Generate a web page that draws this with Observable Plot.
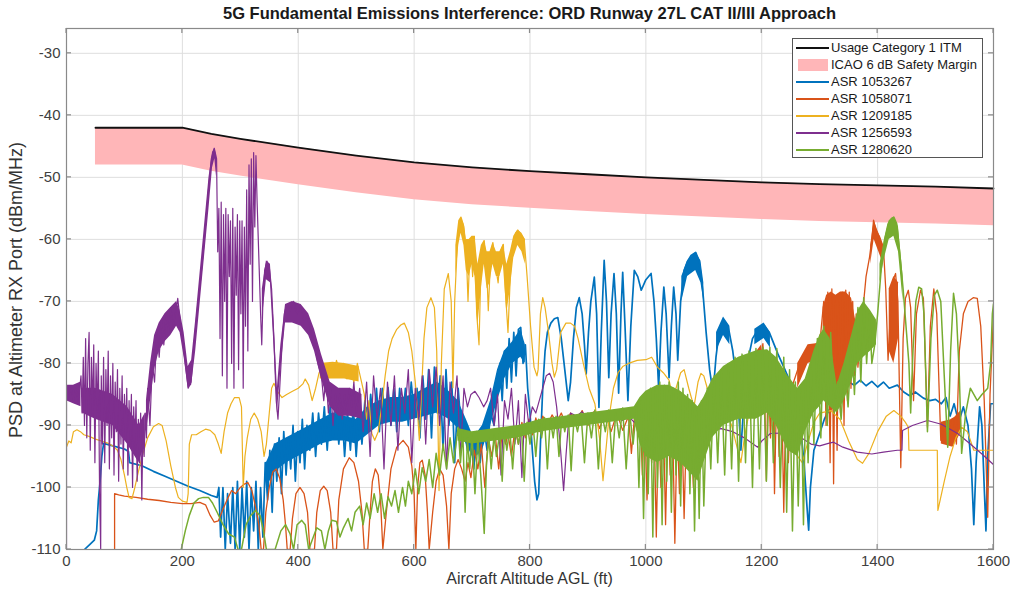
<!DOCTYPE html>
<html><head><meta charset="utf-8">
<script src="https://cdn.jsdelivr.net/npm/d3@7"></script>
<script src="https://cdn.jsdelivr.net/npm/@observablehq/plot@0.6"></script>
<style>
body{margin:0;background:#fff;font-family:"Liberation Sans",Arial,sans-serif;}
#wrap{position:relative;width:1010px;height:595px;overflow:hidden;}
#title{position:absolute;left:66px;width:927px;top:4px;text-align:center;font-weight:bold;font-size:16.5px;color:#1a1a1a;}
#xlab{position:absolute;left:66px;width:927px;top:570px;text-align:center;font-size:16px;color:#333;}
#ylab{position:absolute;left:16px;top:290px;transform:translate(-50%,-50%) rotate(-90deg);white-space:nowrap;font-size:18px;color:#333;}
#legend{position:absolute;left:792px;top:38px;width:189px;height:118px;border:1px solid #555;background:#fff;font-size:13px;color:#1a1a1a;}
.row{position:absolute;left:3px;height:17px;display:flex;align-items:center;}
.sw{width:33px;height:2px;margin-right:2px;}
.patch{width:30px;height:12px;margin:0 3px 0 2px;}
</style></head>
<body><div id="wrap"><div id="title">5G Fundamental Emissions Interference: ORD Runway 27L CAT II/III Approach</div>
<div id="plot"></div><div id="xlab">Aircraft Altitude AGL (ft)</div><div id="ylab">PSD at Altimeter RX Port (dBm/MHz)</div><div id="legend"></div></div>
<script>
const xTicks=[0,200,400,600,800,1000,1200,1400,1600];
const yTicks=[-110,-100,-90,-80,-70,-60,-50,-40,-30];
const itmX=[50,200,250,300,400,500,600,700,800,900,1000,1100,1200,1300,1400,1500,1600];
const itmY=[-42,-42,-43,-43.8,-45.2,-46.5,-47.6,-48.4,-49,-49.5,-50,-50.4,-50.8,-51.1,-51.3,-51.5,-51.8];
const icaoLow=[-48,-48,-49,-49.8,-51.2,-52.5,-53.6,-54.4,-55,-55.5,-56,-56.4,-56.8,-57.1,-57.3,-57.5,-57.8];
const seriesNames=["ASR 1053267","ASR 1058071","ASR 1209185","ASR 1256593","ASR 1280620"];
const seriesColors=["#0072BD","#D95319","#EDB120","#7E2F8E","#77AC30"];
const seriesWidths=[1.7,1.3,1.2,1.2,1.5];

const blueLine=[[31,-110],[40,-109.2],[48,-108.5],[52,-107],[55,-102],[58,-99],[61,-95],[64,-92.9],[80,-93.3],[100,-93.8],[107,-94.2],[109,-96],[130,-96.5],[150,-97.4],[170,-98.2],[190,-99],[210,-99.8],[230,-100.5],[250,-101.3],[260,-101.6],[263,-100],[266,-108],[270,-100],[274,-110],[278,-101],[283,-109],[287,-100],[291,-110],[295,-99],[299,-110],[303,-100],[307,-108],[311,-99],[315,-110],[319,-100],[323,-107],[327,-99],[331,-110],[335,-100],[339,-108],[343,-96],[347,-102],[351,-94],[355,-104],[359,-93],[363,-99],[367,-92],[371,-101],[375,-91],[379,-98],[383,-92],[387,-97],[391,-90],[395,-99],[399,-91],[403,-96],[407,-89],[411,-97],[415,-90],[420,-94],[425,-88],[430,-95],[435,-88],[440,-93],[445,-87],[450,-94],[455,-87],[460,-92],[465,-86],[470,-93],[475,-87],[480,-95],[485,-88],[490,-94],[495,-87],[500,-95],[505,-88],[510,-93],[515,-86],[520,-91],[525,-85],[530,-90],[535,-84],[540,-91],[545,-84],[550,-89],[555,-83.9],[560,-90],[565,-84],[570,-91],[575,-84],[580,-89],[585,-84],[590,-90],[595,-83],[600,-88],[605,-84],[610,-92],[615,-82],[620,-89],[625,-81],[630,-92],[635,-80.6],[640,-88],[645,-82],[650,-94],[655,-81],[660,-90],[665,-83],[670,-96],[676,-84],[680,-89],[686,-90],[692,-94],[698,-92],[703,-97],[708,-91],[714,-96],[720,-90],[726,-94],[732,-88],[738,-90],[744,-84],[748,-80],[752,-86],[756,-78],[760,-84],[764,-76],[768,-83],[772,-75],[776,-82],[780,-74.5],[784,-74.2],[788,-80],[792,-77],[796,-84],[800,-88],[804,-94],[808,-99],[812,-102],[815,-101],[818,-93],[822,-84],[826,-78],[830,-75],[836,-73.5],[842,-72.8],[848,-72.6],[854,-76],[860,-81],[866,-86],[870,-83],[875,-76],[880,-71],[885,-69.4],[890,-72],[894,-77],[897,-81.7],[901,-75],[905,-70],[911,-66.1],[915,-72],[919,-87.1],[923,-75],[928,-63.4],[932,-70],[936,-82.3],[940,-72],[945,-65.5],[949,-72],[953,-84.8],[957,-72],[960,-65.3],[964,-74],[969,-86],[974,-74],[980,-65],[986,-66],[992,-68.2],[1000,-66.5],[1009,-65.5],[1014,-70],[1018,-76],[1022,-83.9],[1026,-75],[1031,-67.7],[1035,-72],[1040,-82.3],[1044,-74],[1048,-67.7],[1052,-72],[1055,-79.5],[1060,-70],[1066,-65],[1072,-63.5],[1078,-62.6],[1086,-62.1],[1092,-63.5],[1098,-68],[1104,-75],[1110,-81],[1116,-84.8],[1121,-79],[1127,-74.5],[1134,-73],[1142,-74],[1150,-78],[1158,-84],[1164,-94],[1168,-88],[1175,-80],[1184,-76],[1195,-74.3],[1204,-73.9],[1213,-75],[1228,-78.5],[1240,-81],[1250,-83.2],[1260,-87],[1267,-90.3],[1273,-96],[1278,-103],[1281,-106.9],[1284,-100],[1290,-94],[1296,-92.4],[1308,-89],[1319,-87],[1330,-84.5],[1340,-83.9],[1350,-83],[1360,-83.5],[1370,-82.7],[1380,-83.6],[1390,-82.9],[1400,-83.8],[1410,-83],[1420,-84],[1434,-83.5],[1445,-84.6],[1455,-85.2],[1465,-84.6],[1479,-85.6],[1490,-86],[1500,-85.8],[1510,-86.5],[1518,-85.5],[1525,-88.5],[1532,-86.5],[1540,-89.5],[1548,-87],[1556,-90],[1562,-97],[1566,-106],[1570,-96],[1576,-87],[1580,-90],[1584,-100],[1587,-107],[1590,-95],[1595,-86.5],[1600,-86.5]];
const blueBandA=[[345,-100,-96],[360,-97.5,-93],[380,-96,-92],[400,-95,-91],[420,-94,-90],[440,-93,-89],[460,-92.5,-88],[480,-92.5,-88.5],[500,-93,-89],[520,-91.5,-87],[540,-90,-86],[560,-89.5,-85.5],[580,-89.5,-85.5],[600,-89,-85],[620,-88.5,-84],[640,-88,-83],[660,-89,-84.5],[676,-90.5,-86],[690,-93,-89],[703,-95.5,-92],[718,-94,-90],[732,-90,-86],[744,-86,-81],[756,-82.5,-78],[770,-80,-76.5],[784,-79,-74.5],[792,-80,-77]];
const blueBandB=[[1062,-70,-66],[1072,-66,-63.5],[1086,-65,-62.1],[1095,-67,-63.5],[1100,-70,-67]];
const blueBandC=[[1122,-78,-75],[1134,-75.5,-72.5],[1145,-77,-74]];
const blueBandD=[[1188,-77,-74.5],[1204,-76,-73.5],[1215,-77.5,-75]];

const orangeLine=[[83,-110],[83,-101],[90,-101.2],[100,-101.4],[120,-101.6],[140,-101.9],[160,-102.1],[180,-102.4],[200,-102.6],[215,-102.6],[230,-102.4],[240,-102.8],[248,-104.5],[255,-105.6],[262,-105.4],[270,-103.5],[278,-101.8],[285,-100.5],[292,-101],[300,-100],[306,-99.5],[313,-99.2],[320,-100.5],[326,-103],[332,-106],[336,-110],[340,-110],[344,-104],[350,-100],[356,-97.5],[362,-97],[368,-98.5],[374,-102],[378,-106],[381,-110],[386,-110],[390,-105],[396,-101],[403,-100],[410,-101],[416,-104],[420,-110],[428,-110],[432,-104],[438,-100.5],[444,-99.8],[450,-100.5],[456,-104],[460,-110],[466,-110],[470,-102],[478,-97],[488,-95.2],[496,-96],[504,-99],[510,-104],[514,-110],[520,-110],[524,-104],[528,-99],[533,-97],[538,-98],[542,-102],[546,-110],[552,-104],[560,-97],[570,-93.5],[581,-92.4],[590,-93.5],[596,-96.5],[600,-101],[603,-110],[606,-100],[610,-96],[614,-95.6],[619,-98],[623,-104],[626,-110],[632,-104],[638,-99],[644,-97],[650,-98],[656,-103],[660,-110],[664,-101],[670,-97],[676,-95.5],[682,-97],[688,-99],[693,-96],[698,-98.4],[704,-94],[710,-97],[716,-93],[722,-100],[728,-92],[734,-95],[740,-91.5],[746,-97],[752,-91],[758,-93],[762,-91.3],[768,-95],[774,-90.5],[780,-93],[786,-89.5],[792,-92],[798,-89],[804,-91.5],[810,-88.8],[816,-91],[822,-88.5],[830,-90],[838,-88.3],[846,-89.5],[854,-88],[862,-89.8],[870,-88],[880,-89.5],[890,-87.6],[900,-90],[910,-87.8],[920,-90.5],[930,-88],[940,-91],[950,-88],[960,-90.8],[970,-88.5],[975,-94.5],[980,-89],[986,-91],[990,-87.5],[994,-98],[998,-88],[1002,-102],[1006,-89],[1010,-96],[1014,-88],[1018,-108],[1022,-89],[1026,-100],[1030,-87.5],[1034,-106],[1038,-88],[1042,-98],[1046,-89],[1050,-109],[1054,-90],[1058,-101],[1062,-89],[1066,-105],[1070,-90],[1074,-97],[1078,-91],[1082,-100],[1086,-92],[1090,-94],[1094,-90],[1100,-89],[1110,-87],[1120,-86],[1130,-85],[1140,-84],[1150,-83],[1159,-82.3],[1165,-84],[1170,-81],[1176,-83],[1182,-80],[1188,-82],[1194,-78.5],[1198,-79],[1202,-76.8],[1205,-85],[1208,-98.9],[1211,-80],[1215,-92],[1219,-82],[1222,-101],[1226,-83],[1230,-95],[1234,-82],[1238,-104],[1242,-84],[1246,-96],[1250,-86],[1255,-83],[1262,-81],[1270,-79],[1280,-77.6],[1290,-77],[1297,-76.8],[1302,-75],[1307,-70],[1311,-90],[1314,-68.5],[1318,-96],[1321,-68],[1324,-99.4],[1327,-70],[1330,-94],[1333,-70],[1336,-88],[1339,-68.5],[1342,-90],[1345,-68.2],[1348,-86],[1351,-68.5],[1354,-84],[1357,-70],[1360,-82],[1363,-72],[1366,-80.6],[1370,-76],[1374,-72],[1380,-66],[1386,-62.9],[1390,-60],[1393,-56.9],[1397,-58.5],[1403,-59.5],[1410,-61.3],[1414,-68],[1418,-79.5],[1422,-72],[1427,-66.5],[1431,-65.5],[1435,-70],[1440,-96.8],[1444,-76],[1448,-69.5],[1453,-68.2],[1457,-71],[1462,-86],[1467,-72],[1474,-68.2],[1479,-69.5],[1486,-90.3],[1491,-74],[1497,-68],[1502,-72],[1509,-92.4],[1515,-90],[1521,-92.5],[1527,-89],[1531,-88.8],[1536,-93],[1541,-78],[1548,-72],[1556,-70],[1565,-69.4],[1572,-69.5],[1578,-74],[1584,-86],[1590,-104.8],[1594,-85],[1600,-72]];
const orangeBandA=[[1100,-90,-87.5],[1130,-87,-84],[1160,-84.5,-81.5],[1180,-82.5,-79.5],[1200,-80,-77]];
const orangeBandB=[[1262,-84,-80],[1280,-80,-77],[1297,-79.5,-76.8]];
const orangeBandC=[[1306,-78,-71],[1312,-84,-69],[1320,-88,-68.5],[1328,-86,-69],[1336,-83,-68.5],[1345,-82,-68.5],[1355,-80,-69.5],[1362,-78,-73]];
const orangeBandD=[[1388,-64,-61],[1394,-60,-57],[1402,-62,-59],[1410,-64,-61]];
const orangeBandE=[[1420,-78,-68],[1428,-80,-66],[1436,-76,-67]];
const orangeBandF=[[1510,-93,-89.5],[1530,-93.5,-89],[1545,-91,-87.5]];

const yellowLine=[[0,-93.5],[4,-92.5],[8,-92.8],[12,-91],[18,-90.7],[24,-91],[30,-91.5],[40,-91.8],[50,-92.2],[60,-92.5],[70,-92.8],[80,-93.3],[88,-94],[94,-95.5],[100,-98],[104,-100],[108,-101.6],[113,-101.8],[118,-100],[124,-97.5],[132,-94.5],[140,-92],[150,-90.2],[159,-89.7],[165,-90],[172,-92.5],[180,-96.5],[188,-100],[193,-101.6],[200,-102.2],[208,-102.4],[210,-101],[212,-93],[216,-91.5],[224,-91.5],[232,-91],[240,-90.6],[248,-90.8],[256,-91.5],[262,-93],[267,-94.5],[272,-91],[278,-88],[284,-86.5],[290,-85.5],[298,-85.5],[302,-87],[305,-100],[308,-95],[312,-92],[318,-89],[324,-88],[330,-89],[336,-91],[341,-95],[345,-93],[350,-88],[354,-84],[358,-83.2],[364,-84.5],[372,-85.5],[380,-85],[390,-84.5],[400,-84],[408,-83.3],[412,-82.5],[418,-83.5],[424,-86],[430,-84],[436,-81.5],[442,-80.6],[448,-81.8],[454,-80],[460,-82],[466,-79.5],[472,-81.5],[478,-80],[484,-82.5],[490,-80.5],[496,-83],[502,-80],[508,-82.5],[514,-85],[518,-89],[522,-86],[527,-91.3],[532,-92.4],[538,-91],[544,-87],[550,-82],[556,-78],[562,-76],[570,-74.5],[577,-73.8],[583,-73.5],[590,-75],[596,-78],[602,-83],[606,-88],[609,-92.4],[613,-84],[617,-76],[622,-71],[629,-69.4],[635,-71],[639,-78],[643,-100.5],[647,-80],[652,-68],[659,-65.5],[664,-70],[667,-83.9],[670,-70],[675,-60],[681,-56.4],[686,-58],[690,-62],[693,-70],[697,-60],[701,-66],[704,-59.5],[708,-72],[712,-77],[716,-62],[721,-60.2],[725,-64],[728,-71.5],[732,-63],[736,-60.5],[740,-64],[745,-67],[749,-62],[754,-60.8],[758,-69],[762,-75],[766,-66],[770,-61],[775,-59],[779,-58.5],[784,-59.2],[790,-60],[795,-66],[801,-74],[807,-80.6],[812,-82],[814,-81],[818,-72],[822,-69.4],[826,-71],[832,-75],[838,-80],[842,-82.2],[846,-81],[853,-75],[862,-73.5],[870,-73.5],[877,-74],[883,-76],[892,-80],[902,-84],[912,-86.5],[920,-92],[926,-98.9],[930,-95],[936,-89],[944,-84],[952,-81.5],[960,-80.5],[970,-80],[985,-79.5],[1000,-79.4],[1010,-79],[1020,-80.6],[1030,-81.5],[1040,-82.7],[1046,-85.3],[1052,-84],[1060,-81.5],[1066,-81],[1074,-84],[1083,-87],[1090,-83],[1095,-81.6],[1100,-82],[1106,-84],[1112,-86],[1120,-87],[1130,-87.5],[1140,-88],[1148,-90],[1156,-93],[1164,-96],[1170,-92],[1178,-88],[1190,-86.5],[1205,-85.8],[1220,-85.5],[1235,-87],[1250,-91],[1262,-95],[1270,-96],[1279,-92.9],[1290,-89.5],[1300,-88],[1319,-87.6],[1335,-89],[1350,-92.5],[1365,-95.5],[1374,-96.1],[1385,-94.5],[1400,-91],[1415,-88.5],[1428,-87.6],[1440,-88.5],[1448,-89.5],[1453,-90.3],[1454,-94],[1470,-94],[1490,-94],[1503,-94],[1504,-103.7],[1515,-99],[1525,-95],[1535,-92],[1545,-90.3],[1555,-91],[1566,-94],[1580,-94],[1600,-94]];
const yellowBandA=[[672,-66,-61],[677,-61,-57],[681,-59,-56.4],[686,-61,-57.5],[690,-65,-60],[695,-66,-60],[700,-64,-59.5],[705,-66,-59.5],[710,-74,-64],[716,-68,-61],[721,-64,-60.2],[726,-68,-62],[731,-67,-62],[736,-64,-60.5],[742,-66,-62],[748,-66,-62],[754,-64,-60.8],[760,-72,-64],[766,-68,-62],[772,-63,-59.5],[779,-61,-58.5],[786,-62,-59],[792,-64,-60]];
const yellowBandB=[[438,-82.5,-80],[460,-82.5,-79.8],[480,-82.5,-80],[505,-83,-80.5]];

const purpleLine=[[0,-110],[0,-84],[4,-85],[8,-84],[12,-86],[16,-84],[20,-86],[24,-83],[25,-82],[27,-88],[29,-79],[31,-90],[33,-76],[35,-92],[37,-80],[39,-75],[41,-94],[43,-79],[45,-88],[47,-77],[49,-96],[51,-80],[53,-88],[55,-78],[57,-100],[59,-110],[60,-82],[62,-93],[64,-79],[66,-96],[68,-81],[70,-90],[72,-78],[74,-97],[76,-82],[78,-92],[80,-80],[82,-98],[84,-83],[86,-91],[88,-81],[90,-99],[92,-84],[94,-93],[96,-82],[98,-97],[100,-85],[102,-92],[104,-84],[106,-98],[108,-86],[110,-93],[112,-85],[114,-100],[116,-87],[118,-94],[120,-86],[122,-99],[124,-89],[126,-96],[128,-88],[130,-102],[132,-90],[134,-95],[136,-88],[138,-92],[140,-84],[144,-90],[148,-80],[152,-83],[156,-75],[160,-79],[164,-73],[168,-77],[172,-72],[176,-75],[180,-71],[184,-74],[188,-72],[192,-69.5],[196,-73],[200,-76],[205,-80],[210,-84],[215,-83],[220,-77],[226,-71],[232,-66],[238,-60],[244,-53],[250,-47],[255,-45.3],[259,-47],[261,-62],[263,-55],[265,-76],[267,-54],[269,-82],[271,-56],[273,-70],[275,-55],[277,-84],[279,-56],[281,-66],[283,-57],[285,-80],[287,-55],[289,-84],[291,-58],[293,-69],[295,-56],[297,-81],[299,-57],[301,-72],[303,-57],[305,-84],[307,-58],[309,-74],[311,-52],[313,-78],[315,-48],[317,-64],[319,-47],[321,-70],[323,-46],[325,-58],[327,-46.5],[329,-54],[331,-60],[333,-66],[335,-72],[337,-77],[339,-70],[342,-65],[346,-63.5],[350,-64.5],[354,-68],[358,-76],[362,-86],[365,-89],[368,-84],[372,-77],[376,-72],[380,-70.5],[386,-71.5],[392,-70],[398,-72],[404,-71],[410,-73],[416,-72.5],[422,-75],[428,-77],[434,-80],[440,-82],[444,-86],[448,-82],[452,-88],[456,-84],[460,-90],[464,-85],[468,-88],[472,-85],[476,-89],[480,-85],[484,-88],[488,-84],[492,-87],[496,-83],[500,-88],[506,-84],[512,-91],[518,-83],[524,-95],[530,-82],[536,-89],[542,-84],[548,-97],[554,-83],[560,-90],[566,-82],[572,-94],[578,-84],[584,-88],[590,-81],[596,-96],[602,-84],[608,-89],[614,-82],[620,-93],[626,-81],[632,-87],[638,-80.6],[644,-90],[650,-82],[656,-97],[662,-83],[668,-88],[674,-82],[680,-95],[686,-84],[692,-87],[698,-85],[705,-84.5],[712,-85.5],[720,-87],[726,-86],[732,-84],[738,-90],[744,-85],[750,-98],[756,-86],[762,-89],[768,-84],[774,-93],[780,-86],[786,-98.4],[792,-85],[798,-90],[804,-87],[810,-88],[816,-86],[822,-84],[828,-82],[834,-81.6],[840,-83],[846,-87],[852,-93],[858,-100.5],[862,-95],[866,-90],[870,-88],[880,-88.5],[890,-87.8],[900,-89],[910,-88],[920,-89.5],[930,-88.3],[940,-89],[950,-88],[960,-89.2],[970,-88.5],[980,-89.5],[990,-88.8],[1000,-89.5],[1010,-89],[1020,-89.8],[1030,-90.3],[1050,-90.5],[1070,-90.2],[1090,-90.4],[1110,-90.8],[1130,-90.5],[1150,-91],[1170,-92],[1185,-93],[1193,-93.5],[1200,-92.5],[1215,-91.3],[1240,-91.2],[1260,-91.5],[1285,-93],[1300,-93.3],[1315,-92.9],[1324,-92.7],[1340,-93.5],[1365,-94.3],[1390,-94.6],[1410,-94.3],[1434,-94],[1442,-94],[1443,-90.8],[1460,-90],[1486,-89.2],[1510,-89.8],[1538,-91.3],[1560,-93],[1580,-94.6],[1600,-96.3]];
const purpleBandA=[[0,-86,-83.5],[12,-86.5,-83.5],[25,-87,-83]];
const purpleBandB=[[27,-88,-84],[50,-89,-84],[80,-90,-85],[105,-93,-87],[125,-96,-90],[136,-93,-88]];
const purpleBandC=[[138,-91,-86],[145,-86,-80],[152,-81,-75.5],[160,-78,-73.5],[170,-76.5,-72],[180,-75.5,-71],[190,-74,-70],[196,-75,-71.5],[203,-79,-75],[210,-84,-80.5],[216,-83.5,-79.5],[223,-78,-73],[230,-71,-66],[238,-63,-58],[246,-55,-50],[252,-48.5,-46],[256,-47,-45.3],[259,-50,-46.5]];
const purpleBandD=[[338,-73,-68],[345,-66.5,-63.5],[352,-67,-64],[358,-77,-73],[364,-88,-84],[370,-81,-77],[378,-73.5,-70.5],[390,-73.5,-70],[405,-74,-70.5],[418,-75.5,-72],[428,-78,-74.5],[440,-82.5,-78.5],[455,-87,-83],[470,-88.5,-84],[490,-88.5,-84],[510,-89,-85]];

const greenLine=[[198,-110],[205,-107],[212,-104.5],[220,-102.5],[228,-101.8],[236,-101.6],[245,-101.6],[252,-102.5],[260,-104],[270,-106],[280,-107.5],[290,-108],[296,-110],[302,-110],[310,-106],[318,-104.5],[326,-103.7],[334,-104.5],[340,-107],[345,-110],[360,-110],[370,-107],[378,-106],[386,-107.5],[392,-110],[398,-106],[406,-105.3],[412,-106],[418,-110],[426,-108],[432,-106.5],[440,-107],[446,-110],[452,-107],[458,-105.3],[466,-105.5],[472,-108],[478,-106.5],[486,-105],[492,-107],[498,-104],[506,-103],[512,-106],[518,-102.5],[524,-105],[531,-101],[537,-104],[543,-101],[549,-105],[555,-101.5],[561,-103],[567,-100.5],[573,-104],[580,-100],[585,-103],[590,-99],[596,-101],[602,-97],[608,-101],[614,-96.8],[620,-99],[626,-95.5],[632,-100],[638,-94.5],[644,-98],[650,-93],[656,-97],[662,-92],[668,-96],[676,-90.3],[680,-96],[684,-91],[688,-104],[692,-92],[696,-97],[700,-91.5],[705,-101],[710,-92],[715,-98],[721,-107.4],[725,-96],[729,-92],[733,-97],[738,-91.5],[742,-95],[748,-91],[752,-99],[756,-91],[760,-94],[765,-90.5],[770,-97],[775,-90.5],[780,-93],[785,-90],[790,-99],[795,-89.5],[800,-93],[805,-89.5],[810,-95],[815,-89],[820,-92],[825,-88.7],[830,-97],[835,-89],[840,-92],[845,-88.5],[850,-95],[855,-88.5],[860,-91],[866,-88.3],[871,-97.3],[876,-88.5],[882,-91],[888,-88],[894,-96],[900,-88],[906,-92],[912,-87.5],[918,-97],[924,-88],[930,-91],[936,-87.5],[942,-96],[948,-88],[954,-92],[960,-87.2],[966,-97],[972,-88],[978,-93],[984,-87],[988,-100],[992,-86],[996,-105],[1000,-85],[1004,-101],[1008,-84],[1012,-108],[1016,-84],[1020,-100],[1024,-83],[1028,-106],[1032,-83.5],[1036,-99],[1040,-83],[1044,-104],[1048,-84],[1052,-98],[1056,-83],[1060,-103],[1064,-84],[1068,-96],[1072,-85],[1076,-101],[1080,-86],[1084,-107],[1088,-87],[1092,-105],[1096,-86],[1100,-103],[1106,-84],[1112,-97],[1118,-82],[1124,-96],[1130,-81],[1136,-98],[1142,-80],[1148,-97],[1154,-79],[1160,-99],[1166,-78.5],[1172,-96],[1178,-78],[1184,-100],[1190,-77.6],[1196,-97],[1202,-77.4],[1208,-99],[1214,-77.4],[1220,-96],[1226,-77.6],[1232,-100],[1238,-79],[1243,-104],[1248,-81],[1253,-107],[1258,-83],[1263,-103],[1268,-84],[1272,-106],[1276,-83],[1280,-96],[1285,-80],[1290,-93],[1296,-76],[1302,-92],[1307,-74],[1313,-90],[1319,-75],[1325,-88],[1331,-83],[1337,-89],[1343,-80],[1349,-87],[1355,-76],[1360,-85],[1366,-71],[1371,-83],[1376,-69.4],[1381,-80],[1386,-72],[1390,-80],[1395,-77],[1400,-72],[1406,-65],[1412,-60],[1418,-57.5],[1424,-56.6],[1428,-56.4],[1433,-57.5],[1438,-62],[1444,-68],[1450,-75.2],[1454,-80],[1457,-88],[1461,-78],[1466,-70],[1471,-67.7],[1476,-68],[1480,-72],[1486,-91],[1492,-76],[1498,-69],[1503,-68.2],[1509,-70],[1515,-82],[1521,-93.5],[1526,-78],[1531,-68.7],[1536,-72],[1541,-82],[1545,-94.5],[1552,-88],[1560,-84],[1572,-86],[1580,-85],[1590,-84],[1595,-80],[1598,-72],[1600,-70.4]];
const greenBandA=[[676,-92.5,-90.5],[700,-93,-91],[740,-92.5,-90.5],[780,-92,-90],[820,-91,-89],[860,-90.5,-88.5],[900,-90,-88],[940,-89.5,-87.5],[980,-89,-87],[990,-93,-85.5],[1000,-95,-84.5],[1020,-96,-83.5],[1040,-95,-83.5],[1060,-96,-84.5],[1080,-98,-86],[1090,-99,-87],[1100,-96,-85.5],[1115,-92,-82.5],[1134,-90,-80.5],[1160,-89,-79],[1190,-89,-78],[1210,-88,-77.8],[1225,-90,-79],[1245,-94,-82],[1262,-95,-84],[1275,-91,-82.5],[1290,-88,-78],[1300,-87,-75.5],[1307,-86,-74.5],[1318,-87,-76],[1330,-88,-83.5],[1342,-86,-80],[1355,-83,-75.5],[1366,-80,-71.5],[1376,-79,-70],[1388,-78,-71.5],[1398,-77,-73]];
const greenBandB=[[1404,-67,-64],[1412,-63,-60],[1420,-60,-57],[1428,-59.5,-56.4],[1436,-62,-58],[1444,-70,-66]];

const itm=itmX.map((x,i)=>({x,y:itmY[i],lo:icaoLow[i]}));
const lines=[blueLine,orangeLine,yellowLine,purpleLine,greenLine];
const bands=[[blueBandA,blueBandB,blueBandC,blueBandD],[orangeBandA,orangeBandB,orangeBandC,orangeBandD,orangeBandE,orangeBandF],[yellowBandA,yellowBandB],[purpleBandA,purpleBandB,purpleBandC,purpleBandD],[greenBandA,greenBandB]];

const seriesMarks=[];
lines.forEach((ln,i)=>{
  bands[i].forEach(b=>seriesMarks.push(Plot.areaY(b,{x:d=>d[0],y1:d=>d[1],y2:d=>d[2],fill:seriesColors[i],clip:true})));
  seriesMarks.push(Plot.line(ln,{x:d=>d[0],y:d=>d[1],stroke:seriesColors[i],strokeWidth:seriesWidths[i],strokeLinejoin:"round",clip:true}));
});

const chart=Plot.plot({
  width:1010,height:595,marginLeft:66,marginRight:17,marginTop:28,marginBottom:46,
  style:{fontFamily:"'Liberation Sans',Arial,sans-serif",fontSize:"15px",color:"#404040",background:"#fff"},
  x:{domain:[0,1600]},y:{domain:[-110,-26]},
  marks:[
    Plot.gridX(xTicks,{stroke:"#dedede",strokeOpacity:1}),
    Plot.gridY(yTicks,{stroke:"#dedede",strokeOpacity:1}),
    Plot.areaY(itm,{x:"x",y1:"lo",y2:"y",fill:"#ffb6b8"}),
    Plot.line(itm,{x:"x",y:"y",stroke:"#111",strokeWidth:1.8}),
    ...seriesMarks,
    Plot.frame({stroke:"#8a8a8a",strokeWidth:1.2}),
    Plot.axisX(xTicks,{tickSize:0,tickPadding:6,label:null,tickFormat:d=>String(d)}),
    Plot.axisY(yTicks,{tickSize:0,tickPadding:6,label:null,tickFormat:d=>String(d)})
  ]
});
document.getElementById("plot").appendChild(chart);

// inward tick marks on all four sides, placed with the chart's own scales
const sx=chart.scale("x"), sy=chart.scale("y");
const [r0,r1]=sx.range, [b0,b1]=sy.range; // b0 = bottom, b1 = top
const g=d3.select(chart).append("g").attr("stroke","#8a8a8a").attr("stroke-width",1.2);
xTicks.forEach(v=>{const px=sx.apply(v);
  g.append("line").attr("x1",px).attr("x2",px).attr("y1",b0).attr("y2",b0-5);
  g.append("line").attr("x1",px).attr("x2",px).attr("y1",b1).attr("y2",b1+5);});
yTicks.forEach(v=>{const py=sy.apply(v);
  g.append("line").attr("x1",r0).attr("x2",r0+5).attr("y1",py).attr("y2",py);
  g.append("line").attr("x1",r1).attr("x2",r1-5).attr("y1",py).attr("y2",py);});

const leg=document.getElementById("legend");
const items=[{name:"Usage Category 1 ITM",color:"#111",patch:false},{name:"ICAO 6 dB Safety Margin",color:"#ffb6b8",patch:true}]
  .concat(seriesNames.map((n,i)=>({name:n,color:seriesColors[i],patch:false})));
items.forEach((it,i)=>{
  const r=document.createElement("div");r.className="row";r.style.top=(0+i*17)+"px";
  const s=document.createElement("div");s.className=it.patch?"patch":"sw";s.style.background=it.color;
  r.appendChild(s);const t=document.createElement("span");t.textContent=it.name;r.appendChild(t);leg.appendChild(r);
});
</script></body></html>
